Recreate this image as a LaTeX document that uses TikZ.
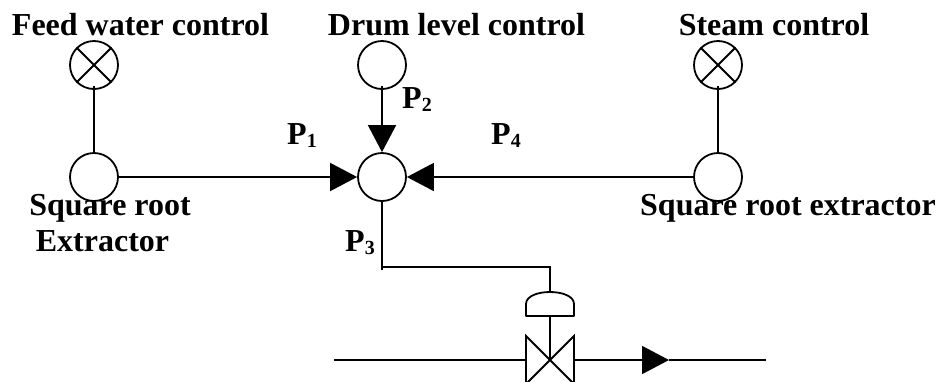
\documentclass[tikz,border=0pt]{standalone}
\usepackage{fontspec}
\setmainfont{Liberation Serif}
\usetikzlibrary{arrows.meta}
\newcommand{\plabel}[1]{P\raisebox{-3.5pt}{\fontsize{20}{22}\selectfont #1}}
\tikzset{
  ln/.style={line width=1.8pt},
  inst/.style={circle,draw,line width=1.8pt,minimum size=48pt,inner sep=0pt},
  tip/.style={ln,-{Triangle[length=27pt,width=28pt]}},
  lbl/.style={anchor=base,inner sep=0pt,font=\bfseries\fontsize{32}{36}\selectfont}
}
\begin{document}
\begin{tikzpicture}[x=1pt,y=-1pt]
\clip (0,0) rectangle (939,381);
\useasboundingbox (0,0) rectangle (939,381);
% instruments
\node[inst] (fw) at (94,65) {};
\node[inst] (dl) at (382,65) {};
\node[inst] (st) at (718,65) {};
\node[inst] (sl) at (94,177) {};
\node[inst] (ct) at (382,177) {};
\node[inst] (sr) at (718,177) {};
\draw[ln] (fw.45) -- (fw.225) (fw.135) -- (fw.315);
\draw[ln] (st.45) -- (st.225) (st.135) -- (st.315);
% connectors
\draw[ln] ([yshift=4pt]fw.south) -- (sl.north);
\draw[ln] ([yshift=4pt]st.south) -- (sr.north);
\draw[tip] ([yshift=4pt]dl.south) -- (ct.north);
\draw[tip] (sl.east) -- (ct.west);
\draw[tip] (sr.west) -- (ct.east);
% valve
\coordinate (bend1) at (382,267);
\coordinate (tick) at (382,270);
\coordinate (bend2) at (550,267);
\coordinate (domeTop) at (550,292);
\coordinate (domeBase) at (550,316);
\coordinate (vc) at (550,360);
\coordinate (vl) at (526,360);
\coordinate (vr) at (574,360);
\coordinate (pipeIn) at (334,360);
\coordinate (pipeTip) at (669,360);
\coordinate (pipeOut) at (766,360);
\draw[ln] (ct.south) -- (tick);
\draw[ln] (bend1) -- (bend2) -- (domeTop);
\draw[ln,line join=round] (526,316) -- (526,304) .. controls (526,296) and (538,292) .. (domeTop)
  .. controls (562,292) and (574,296) .. (574,304) -- (574,316) -- cycle;
\draw[ln] (domeBase) -- (vc);
\draw[ln] (526,336) -- (574,384) -- (574,336) -- (526,384) -- cycle;
\draw[ln] (pipeIn) -- (vl);
\draw[tip] (vr) -- (pipeTip);
\draw[ln] (pipeTip) -- (pipeOut);
% labels
\node[lbl] (t1) at (140.5,35) {Feed water control};
\node[lbl] (t2) at (456.5,35) {Drum level control};
\node[lbl] (t3) at (774,35) {Steam control};
\node[lbl] (t4) at (110,215) {Square root};
\node[lbl] (t5) at (102.5,251) {Extractor};
\node[lbl] (t6) at (788,215) {Square root extractor};
\node[lbl,anchor=base west] (p1) at (287,144) {\plabel{1}};
\node[lbl,anchor=base west] (p2) at (402,108) {\plabel{2}};
\node[lbl,anchor=base west] (p3) at (345,251) {\plabel{3}};
\node[lbl,anchor=base west] (p4) at (491,144) {\plabel{4}};
\end{tikzpicture}
\end{document}
